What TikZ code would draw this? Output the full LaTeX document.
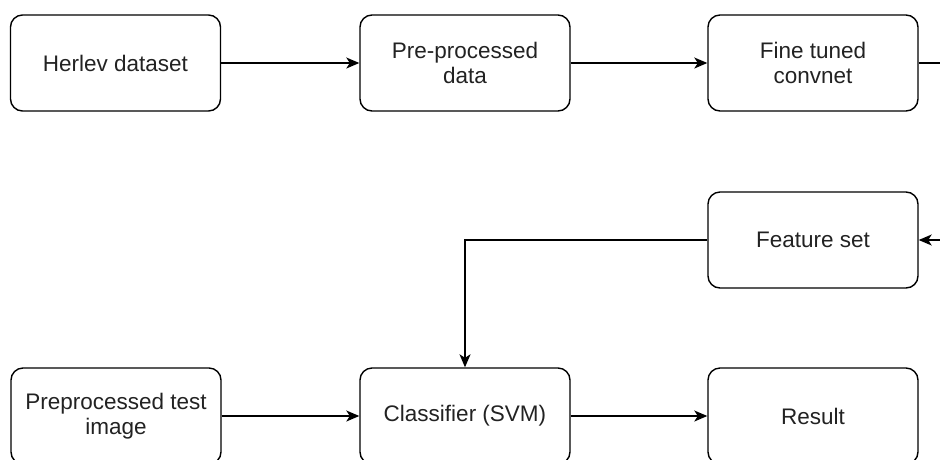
\documentclass[tikz,border=0pt]{standalone}
\usepackage{fontspec}
\setmainfont{Liberation Sans}
\usetikzlibrary{arrows.meta}
\definecolor{txt}{RGB}{34,34,34}
\tikzset{
  box/.style={draw=black, line width=1.4pt, rounded corners=12pt, minimum width=210pt, minimum height=96pt,
    align=center, text=txt, font=\fontsize{22.5}{25.5}\selectfont, inner sep=0pt},
  conn/.style={draw=black, line width=1.4pt, -{Stealth[length=13pt,width=11pt,inset=3.5pt]}},
  plain/.style={draw=black, line width=1.4pt}
}
\begin{document}
\begin{tikzpicture}[x=1pt,y=-1pt]
\useasboundingbox (0,0) rectangle (940,459);
\clip (0,0) rectangle (940,459);
\node[box] (herlev) at (115.5,63) {Herlev dataset};
\node[box] (pre) at (465,63) {Pre-processed\\data};
\node[box] (fine) at (813,63) {Fine tuned\\convnet};
\node[box] (feat) at (813,240) {Feature set};
\node[box] (test) at (116,416) {Preprocessed test\\image};
\node[box] (cls) at (465,416) {Classifier (SVM)};
\node[box] (res) at (813,416) {Result};
\coordinate (outR) at (950,63);
\coordinate (inR) at (950,240);
\draw[conn] (herlev) -- (pre);
\draw[conn] (pre) -- (fine);
\draw[plain] (fine.east) -- (outR);
\draw[conn] (inR) -- (feat.east);
\draw[conn] (feat.west) -| (cls.north);
\draw[conn] (test) -- (cls);
\draw[conn] (cls) -- (res);
\end{tikzpicture}
\end{document}
